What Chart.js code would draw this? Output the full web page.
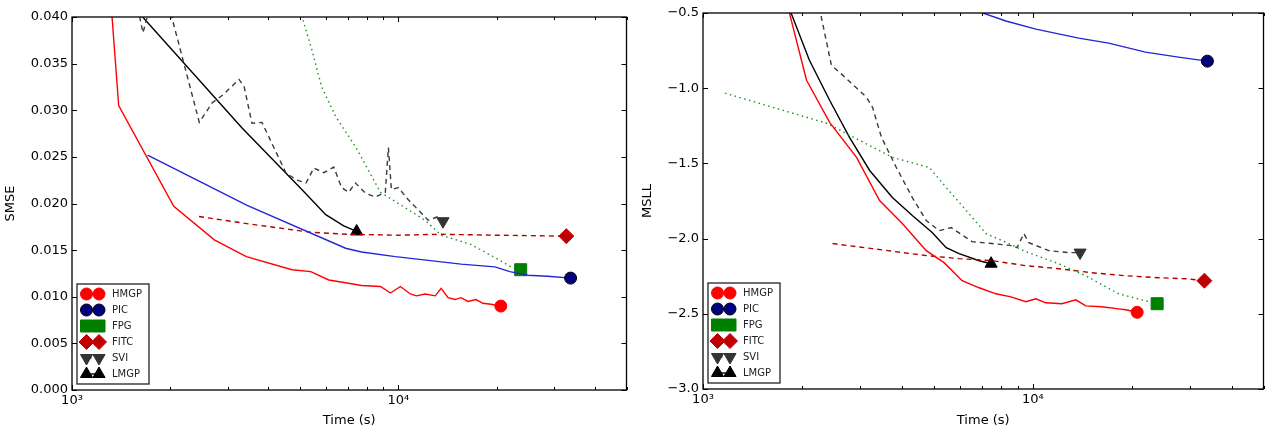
<!DOCTYPE html>
<html>
<head>
<meta charset="utf-8">
<script src="https://cdn.jsdelivr.net/npm/chart.js@4.4.1/dist/chart.umd.min.js"></script>
<style>
  body { margin: 0; background: #fff; }
  #wrap { position: relative; width: 1273px; height: 430px; }
  canvas { position: absolute; top: 0; }
  #smse { left: 0; }
  #msll { left: 636px; }
</style>
</head>
<body>
<div id="wrap">
  <canvas id="smse" width="636" height="430"></canvas>
  <canvas id="msll" width="637" height="430"></canvas>
</div>
<script>
// ---- left panel: SMSE vs time ----
const hmgpTimeL = [1320, 1390, 2050, 2730, 3420, 4720, 5390, 6120, 6890, 7710, 8810, 9460, 10140, 10880, 11350, 12080, 12970, 13520, 14200, 14920, 15560, 16340, 17290, 18160, 19210, 20600];
const hmgpSmse = [0.0410, 0.0305, 0.0197, 0.0161, 0.0143, 0.0129, 0.0127, 0.0118, 0.0115, 0.0112, 0.0111, 0.0104, 0.0111, 0.0103, 0.0101, 0.0103, 0.0101, 0.0109, 0.0099, 0.0097, 0.0099, 0.0095, 0.0097, 0.0093, 0.0092, 0.0090];

const picTimeL = [1704, 3440, 6890, 7710, 9790, 12350, 15560, 19760, 21950, 24900, 28650, 33700];
const picSmse = [0.0252, 0.0198, 0.0152, 0.0148, 0.0143, 0.0139, 0.0135, 0.0132, 0.0127, 0.0123, 0.0122, 0.0120];

const fpgTimeL = [4950, 5430, 5820, 6430, 7390, 8810, 9790, 12080, 13520, 16700, 19760, 22420, 23700];
const fpgSmse = [0.0412, 0.0365, 0.0325, 0.0293, 0.0261, 0.0212, 0.0202, 0.0182, 0.0166, 0.0156, 0.0142, 0.0131, 0.0129];

const fitcTimeL = [2450, 3500, 5430, 7040, 10000, 13400, 20000, 32700];
const fitcSmse = [0.0186, 0.0178, 0.0169, 0.0167, 0.0166, 0.0167, 0.0166, 0.0165];

const sviTimeL = [1590, 1650, 1855, 2455, 2690, 2890, 3250, 3370, 3560, 3820, 4520, 4890, 5210, 5510, 5910, 6340, 6700, 7040, 7390, 7930, 8510, 9120, 9320, 9520, 10000, 10730, 11510, 12350, 13240, 13700];
const sviSmse = [0.0410, 0.0383, 0.0450, 0.0287, 0.0308, 0.0316, 0.0333, 0.0325, 0.0286, 0.0287, 0.0233, 0.0225, 0.0222, 0.0238, 0.0233, 0.0239, 0.0217, 0.0212, 0.0222, 0.0211, 0.0207, 0.0212, 0.0260, 0.0215, 0.0217, 0.0204, 0.0193, 0.0182, 0.0186, 0.0181];

const lmgpTimeL = [1646, 3320, 5060, 5990, 6800, 7450];
const lmgpSmse = [0.0400, 0.0281, 0.0215, 0.0188, 0.0176, 0.0170];

// ---- right panel: MSLL vs time ----
const hmgpTimeR = [1780, 2060, 2420, 2920, 3430, 4020, 4750, 5380, 6100, 6870, 7730, 8580, 9520, 10210, 10940, 12240, 13490, 14460, 16160, 18190, 19100, 20700];
const hmgpMsll = [-0.40, -0.947, -1.227, -1.46, -1.747, -1.90, -2.08, -2.16, -2.28, -2.327, -2.367, -2.387, -2.42, -2.40, -2.427, -2.433, -2.407, -2.447, -2.453, -2.467, -2.473, -2.49];

const picTimeR = [6630, 8280, 10210, 13770, 16970, 21940, 27610, 33800];
const picMsll = [-0.48, -0.553, -0.607, -0.667, -0.70, -0.76, -0.793, -0.82];

const fpgTimeR = [1166, 2370, 3750, 4850, 5460, 6280, 7210, 8460, 9520, 11980, 14460, 18190, 21940, 23800];
const fpgMsll = [-1.033, -1.233, -1.46, -1.527, -1.66, -1.813, -1.967, -2.033, -2.087, -2.167, -2.247, -2.367, -2.413, -2.433];

const fitcTimeR = [2470, 3265, 4750, 5975, 7520, 9520, 11980, 15070, 19100, 24030, 28990, 33100];
const fitcMsll = [-2.033, -2.067, -2.113, -2.133, -2.147, -2.18, -2.20, -2.227, -2.247, -2.26, -2.267, -2.28];

const sviTimeR = [2280, 2450, 2650, 3130, 3265, 3475, 3855, 4310, 4750, 5200, 5650, 6540, 7520, 8640, 8950, 9390, 9720, 11170, 12850, 13900];
const sviMsll = [-0.52, -0.847, -0.913, -1.06, -1.127, -1.327, -1.527, -1.727, -1.88, -1.947, -1.927, -2.02, -2.033, -2.047, -2.06, -1.967, -2.027, -2.08, -2.093, -2.093];

const lmgpTimeR = [1790, 2100, 2420, 2780, 3200, 3750, 4310, 4950, 5460, 5975, 6870, 7470];
const lmgpMsll = [-0.42, -0.813, -1.08, -1.327, -1.547, -1.727, -1.847, -1.96, -2.06, -2.10, -2.147, -2.167];

// axis ticks
const xTickValues = [1000, 2000, 3000, 4000, 5000, 6000, 7000, 8000, 9000, 10000, 20000, 30000, 40000, 50000];
const xTickLabels = { 1000: "10³", 10000: "10⁴" };
const smseTicks = [0, 0.005, 0.01, 0.015, 0.02, 0.025, 0.03, 0.035, 0.04];
const msllTicks = [-3.0, -2.5, -2.0, -1.5, -1.0, -0.5];

const seriesNames = ["HMGP", "PIC", "FPG", "FITC", "SVI", "LMGP"];

const styles = {
    HMGP: { line: "#ff0000", fill: "#ff0000", edge: "#ff0000", dash: [], marker: "circle", r: 6, rot: 0 },
    PIC: { line: "#2525d8", fill: "#000080", edge: "#000000", dash: [], marker: "circle", r: 6, rot: 0 },
    FPG: { line: "#1e941e", fill: "#008000", edge: "#008000", dash: [1.5, 3.5], marker: "rect", r: 8.5, rot: 0 },
    FITC: { line: "#b40000", fill: "#c00000", edge: "#c00000", dash: [5, 4], marker: "rectRot", r: 7.5, rot: 0 },
    SVI: { line: "#3a3a3a", fill: "#333333", edge: "#333333", dash: [5, 4], marker: "triangle", r: 7, rot: 180 },
    LMGP: { line: "#000000", fill: "#000000", edge: "#000000", dash: [], marker: "triangle", r: 7, rot: 0 },
};

Chart.defaults.font.family = "'DejaVu Sans', sans-serif";
Chart.defaults.color = "#000";

function zip(xs, ys) {
    return xs.map((x, i) => ({ x: x, y: ys[i] }));
}

function makeDatasets(pairs) {
    return seriesNames.map((name, k) => {
        const st = styles[name];
        const last = pairs[k][0].length - 1;
        return {
            label: name,
            data: zip(pairs[k][0], pairs[k][1]),
            borderColor: st.line,
            borderWidth: 1.4,
            borderDash: st.dash,
            backgroundColor: st.fill,
            pointBackgroundColor: st.fill,
            pointBorderColor: st.edge,
            pointBorderWidth: 1,
            pointStyle: st.marker,
            pointRotation: st.rot,
            pointRadius: ctx => (ctx.dataIndex === last ? st.r : 0),
            pointHoverRadius: 0,
            tension: 0,
            clip: 0,
        };
    });
}

function drawMarker(ctx, st, x, y) {
    const r = st.r;
    ctx.save();
    ctx.translate(x, y);
    ctx.rotate(st.rot * Math.PI / 180);
    ctx.beginPath();
    if (st.marker === "circle") {
        ctx.arc(0, 0, r, 0, Math.PI * 2);
    } else if (st.marker === "rect") {
        const s = r * Math.SQRT1_2;
        ctx.rect(-s, -s, 2 * s, 2 * s);
    } else if (st.marker === "rectRot") {
        ctx.moveTo(0, -r); ctx.lineTo(r, 0); ctx.lineTo(0, r); ctx.lineTo(-r, 0);
        ctx.closePath();
    } else {
        for (let i = 0; i < 3; i++) {
            const a = i * 2 * Math.PI / 3;
            if (i === 0) ctx.moveTo(Math.sin(a) * r, -Math.cos(a) * r);
            else ctx.lineTo(Math.sin(a) * r, -Math.cos(a) * r);
        }
        ctx.closePath();
    }
    ctx.fillStyle = st.fill;
    ctx.fill();
    ctx.setLineDash([]);
    ctx.lineWidth = 1;
    ctx.strokeStyle = st.edge;
    ctx.stroke();
    ctx.restore();
}

// box frame, inward ticks (matplotlib classic look) and the boxed legend
const axesDecor = {
    id: "axesDecor",
    afterDraw(chart) {
        const ctx = chart.ctx;
        const ca = chart.chartArea;
        const xs = chart.scales.x;
        const ys = chart.scales.y;
        ctx.save();
        ctx.strokeStyle = "#000";
        ctx.lineWidth = 1;
        ctx.beginPath();
        xTickValues.forEach(v => {
            const px = Math.round(xs.getPixelForValue(v)) + 0.5;
            const len = xTickLabels[v] ? 5 : 3;
            ctx.moveTo(px, ca.bottom); ctx.lineTo(px, ca.bottom - len);
            ctx.moveTo(px, ca.top); ctx.lineTo(px, ca.top + len);
        });
        ys.ticks.forEach(t => {
            const py = Math.round(ys.getPixelForValue(t.value)) + 0.5;
            ctx.moveTo(ca.left, py); ctx.lineTo(ca.left + 5, py);
            ctx.moveTo(ca.right, py); ctx.lineTo(ca.right - 5, py);
        });
        ctx.stroke();
        ctx.lineWidth = 1.3;
        ctx.strokeRect(ca.left, ca.top, ca.right - ca.left, ca.bottom - ca.top);

        // legend
        const bx = ca.left + 5, bw = 72, bh = 100;
        const by = ca.bottom - 6 - bh;
        ctx.fillStyle = "#fff";
        ctx.fillRect(bx, by, bw, bh);
        ctx.lineWidth = 1.3;
        ctx.strokeStyle = "#222";
        ctx.strokeRect(bx, by, bw, bh);
        ctx.font = "10px 'DejaVu Sans'";
        ctx.textBaseline = "middle";
        ctx.textAlign = "left";
        seriesNames.forEach((name, i) => {
            const st = styles[name];
            const y = by + 10 + i * 16;
            const m1 = bx + 9.5, m2 = bx + 22;
            ctx.beginPath();
            ctx.setLineDash(st.dash);
            ctx.lineWidth = 1.4;
            ctx.strokeStyle = st.line;
            ctx.moveTo(m1, y); ctx.lineTo(m2, y);
            ctx.stroke();
            drawMarker(ctx, st, m1, y);
            drawMarker(ctx, st, m2, y);
            ctx.fillStyle = "#222";
            ctx.fillText(name, bx + 35, y + 0.5);
        });
        ctx.restore();
    },
};

function makeChart(canvasId, pairs, yOpts, padTop, yWidth, xHeight) {
    return new Chart(document.getElementById(canvasId), {
        type: "line",
        data: { datasets: makeDatasets(pairs) },
        options: {
            responsive: false,
            animation: false,
            devicePixelRatio: 1,
            layout: { padding: { left: 0, top: padTop, right: 7, bottom: 0 } },
            plugins: { legend: { display: false }, tooltip: { enabled: false } },
            events: [],
            scales: {
                x: {
                    type: "logarithmic",
                    min: 1000,
                    max: 50000,
                    afterBuildTicks: s => { s.ticks = xTickValues.map(v => ({ value: v })); },
                    afterFit: s => { s.height = xHeight; },
                    ticks: {
                        autoSkip: false,
                        maxRotation: 0,
                        padding: 3,
                        font: { size: 13 },
                        callback: v => xTickLabels[v] || "",
                    },
                    grid: { display: false, drawTicks: false },
                    border: { display: false },
                    title: { display: true, text: "Time (s)", font: { size: 13 }, padding: { top: 0, bottom: 2 } },
                },
                y: {
                    min: yOpts.min,
                    max: yOpts.max,
                    afterBuildTicks: s => { s.ticks = yOpts.ticks.map(v => ({ value: v })); },
                    afterFit: s => { s.width = yWidth; },
                    ticks: { padding: 4, font: { size: 13 }, callback: yOpts.format },
                    grid: { display: false, drawTicks: false },
                    border: { display: false },
                    title: { display: true, text: yOpts.title, font: { size: 13 }, padding: { top: yOpts.titlePad, bottom: 0 } },
                },
            },
        },
        plugins: [axesDecor],
    });
}

const smseChart = makeChart("smse", [
    [hmgpTimeL, hmgpSmse], [picTimeL, picSmse], [fpgTimeL, fpgSmse],
    [fitcTimeL, fitcSmse], [sviTimeL, sviSmse], [lmgpTimeL, lmgpSmse],
], {
    min: 0, max: 0.04, ticks: smseTicks, title: "SMSE", titlePad: 3,
    format: v => v.toFixed(3),
}, 17, 72, 40);

const msllChart = makeChart("msll", [
    [hmgpTimeR, hmgpMsll], [picTimeR, picMsll], [fpgTimeR, fpgMsll],
    [fitcTimeR, fitcMsll], [sviTimeR, sviMsll], [lmgpTimeR, lmgpMsll],
], {
    min: -3, max: -0.5, ticks: msllTicks, title: "MSLL", titlePad: 4,
    format: v => (v < 0 ? "\u2212" : "") + Math.abs(v).toFixed(1),
}, 13, 67, 41);
</script>
</body>
</html>
